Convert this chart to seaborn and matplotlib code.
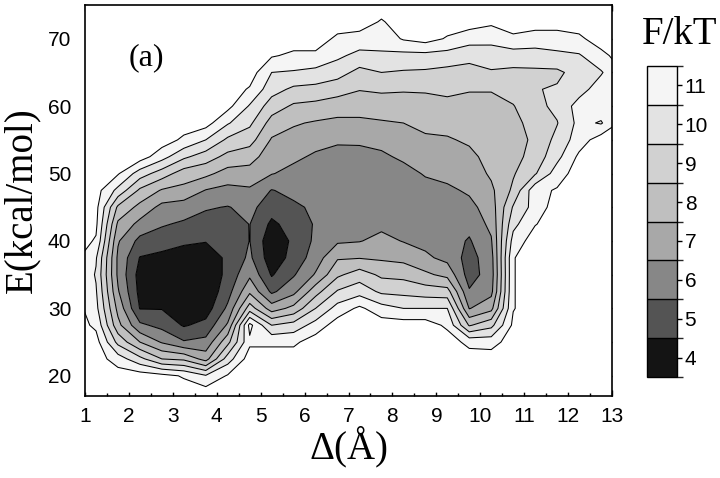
import numpy as np
import matplotlib
matplotlib.use("Agg")
import matplotlib.pyplot as plt
import seaborn as sns
from matplotlib.colors import ListedColormap, BoundaryNorm
from matplotlib.ticker import MultipleLocator
import matplotlib.colorbar as mcolorbar

sns.set_theme(style="ticks")
plt.rcParams["font.family"] = ["Liberation Sans", "DejaVu Sans"]

# ---- data: grid axes ----
delta = [0.75, 1.25, 1.75, 2.25, 2.75, 3.25, 3.75, 4.25, 4.75, 5.25, 5.75, 6.25, 6.75,
         7.25, 7.75, 8.25, 8.75, 9.25, 9.75, 10.25, 10.75, 11.25, 11.75, 12.25, 12.75, 13.25]
energy = [17.5, 20, 22.5, 25, 27.5, 30, 32.5, 35, 37.5, 40, 42.5, 45, 47.5, 50,
          52.5, 55, 57.5, 60, 62.5, 65, 67.5, 70, 72.5, 75]

# ---- data: F/kT along E for each Delta column (12 = outside sampled region) ----
F_d0_75  = [12, 12, 12, 12, 12, 12, 11.8, 11.8, 11.8, 12, 12, 12, 12, 12, 12, 12, 12, 12, 12, 12, 12, 12, 12, 12]
F_d1_25  = [12, 12, 12, 11.9, 11.3, 10.8, 10.6, 10.4, 10.6, 11.4, 11.7, 11.8, 11.9, 12, 12, 12, 12, 12, 12, 12, 12, 12, 12, 12]
F_d1_75  = [12, 12, 11.0, 9.2, 7.8, 7.2, 6.6, 6.3, 6.3, 6.6, 7.3, 8.3, 10.2, 11.6, 12, 12, 12, 12, 12, 12, 12, 12, 12, 12]
F_d2_25  = [12, 12, 9.8, 7.5, 5.7, 4.45, 4.2, 4.1, 4.45, 5.2, 6.2, 7.2, 8.3, 10.0, 12, 12, 12, 12, 12, 12, 12, 12, 12, 12]
F_d2_75  = [12, 11.8, 8.5, 6.4, 5.2, 4.45, 3.9, 3.7, 4.2, 5.0, 5.6, 6.2, 7.4, 9.0, 10.9, 12, 12, 12, 12, 12, 12, 12, 12, 12]
F_d3_25  = [12, 11.4, 8.3, 5.6, 4.4, 3.6, 3.4, 3.4, 3.8, 4.75, 5.35, 6.0, 7.2, 8.0, 9.7, 11.3, 12, 12, 12, 12, 12, 12, 12, 12]
F_d3_75  = [12, 10.6, 7.1, 5.8, 4.8, 4.0, 3.7, 3.6, 3.9, 4.55, 5.1, 5.6, 6.45, 7.75, 9.0, 10.5, 11.9, 12, 12, 12, 12, 12, 12, 12]
F_d4_25  = [12, 11.6, 10.0, 8.2, 6.65, 5.7, 5.1, 4.8, 4.7, 4.8, 5.1, 5.45, 6.2, 7.1, 8.2, 9.3, 10.6, 11.8, 12, 12, 12, 12, 12, 12]
F_d4_75  = [12, 12, 12, 11.3, 11.8, 9.0, 7.3, 6.3, 5.7, 5.52, 5.52, 5.8, 6.35, 7.1, 7.9, 8.9, 9.7, 10.4, 11.4, 12, 12, 12, 12, 12]
F_d5_25  = [12, 12, 12, 11.3, 9.5, 7.0, 5.3, 4.4, 3.9, 3.8, 4.3, 4.9, 5.45, 6.55, 6.95, 7.4, 8.1, 9.0, 9.9, 10.5, 11.6, 12, 12, 12]
F_d5_75  = [12, 12, 12, 11.3, 9.9, 7.8, 6.2, 5.4, 4.85, 4.7, 4.9, 5.3, 5.8, 6.2, 6.7, 7.15, 7.6, 8.35, 9.3, 10.4, 11.3, 12, 12, 12]
F_d6_25  = [12, 12, 12, 12, 10.9, 9.5, 8.1, 6.6, 6.0, 5.7, 5.6, 5.7, 5.9, 6.1, 6.35, 6.85, 7.4, 8.2, 9.2, 10.2, 11.3, 12, 12, 12]
F_d6_75  = [12, 12, 12, 12, 12, 10.9, 9.6, 8.3, 7.4, 6.35, 6.0, 5.85, 5.8, 5.9, 6.15, 6.65, 7.25, 8.0, 8.9, 9.9, 10.7, 11.3, 12, 12]
F_d7_25  = [12, 12, 12, 12, 12, 11.7, 10.1, 9.0, 7.45, 6.45, 6.1, 5.9, 5.8, 5.95, 6.2, 6.65, 7.3, 7.9, 8.55, 9.2, 10.2, 11.1, 12, 12]
F_d7_75  = [12, 12, 12, 12, 12, 10.9, 9.3, 8.3, 7.35, 6.8, 6.25, 6.0, 5.85, 6.0, 6.3, 6.85, 7.4, 8.0, 8.65, 9.5, 10.35, 10.9, 11.4, 12]
F_d8_25  = [12, 12, 12, 12, 12, 10.5, 9.2, 8.2, 7.2, 6.45, 6.15, 5.95, 5.9, 6.1, 6.7, 7.1, 7.5, 8.0, 8.6, 9.4, 10.2, 11.6, 12, 12]
F_d8_75  = [12, 12, 12, 12, 12, 10.5, 9.0, 7.7, 6.7, 6.2, 6.0, 5.9, 6.1, 6.6, 7.0, 7.35, 7.75, 8.15, 8.6, 9.35, 10.2, 11.9, 12, 12]
F_d9_25  = [12, 12, 12, 12, 11.3, 10.5, 8.9, 7.2, 6.2, 5.95, 5.85, 5.9, 6.3, 6.8, 7.1, 7.4, 7.85, 8.25, 8.7, 9.2, 10.1, 11.4, 12, 12]
F_d9_75  = [12, 12, 12, 11.2, 8.4, 6.45, 5.6, 5.05, 5.1, 5.4, 5.8, 6.2, 6.65, 6.95, 7.25, 7.65, 7.95, 8.25, 8.55, 9.1, 9.85, 10.9, 12, 12]
F_d10_25 = [12, 12, 12, 11.1, 9.2, 7.2, 6.2, 6.0, 6.1, 6.4, 6.75, 7.0, 7.3, 7.65, 7.85, 8.0, 8.1, 8.25, 8.55, 9.4, 10.0, 10.8, 11.7, 12]
F_d10_75 = [12, 12, 12, 12, 11.7, 11.45, 11.45, 11.45, 11.45, 10.9, 10.2, 9.6, 8.7, 8.4, 8.15, 8.1, 8.2, 8.45, 8.9, 9.3, 10.0, 11.3, 12, 12]
F_d11_25 = [12, 12, 12, 12, 12, 12, 12, 12, 12, 12, 11.45, 10.9, 11.2, 9.4, 8.9, 8.7, 8.9, 9.2, 9.45, 9.3, 10.1, 11.0, 12, 12]
F_d11_75 = [12, 12, 12, 12, 12, 12, 12, 12, 12, 12, 12, 12, 11.6, 11.0, 10.2, 9.8, 9.45, 9.75, 9.6, 9.3, 10.3, 11.0, 12, 12]
F_d12_25 = [12, 12, 12, 12, 12, 12, 12, 12, 12, 12, 12, 12, 12, 12, 11.7, 11.0, 10.8, 10.9, 10.1, 9.9, 10.4, 11.3, 12, 12]
F_d12_75 = [12, 12, 12, 12, 12, 12, 12, 12, 12, 12, 12, 12, 12, 12, 12, 12, 10.4, 11.1, 11.0, 10.4, 11.2, 12, 12, 12]
F_d13_25 = [12, 12, 12, 12, 12, 12, 12, 12, 12, 12, 12, 12, 12, 12, 12, 12, 11.8, 11.6, 11.5, 11.5, 12, 12, 12, 12]

columns = [F_d0_75, F_d1_25, F_d1_75, F_d2_25, F_d2_75, F_d3_25, F_d3_75, F_d4_25, F_d4_75,
           F_d5_25, F_d5_75, F_d6_25, F_d6_75, F_d7_25, F_d7_75, F_d8_25, F_d8_75, F_d9_25,
           F_d9_75, F_d10_25, F_d10_75, F_d11_25, F_d11_75, F_d12_25, F_d12_75, F_d13_25]

# colour-bar classes
cbar_values = [4, 5, 6, 7, 8, 9, 10, 11]
x_ticks = [1, 2, 3, 4, 5, 6, 7, 8, 9, 10, 11, 12, 13]
y_ticks = [20, 30, 40, 50, 60, 70]

# ---- build grid ----
F = np.column_stack([np.asarray(c, dtype=float) for c in columns])
D, E = np.meshgrid(np.asarray(delta), np.asarray(energy))

grays = [0.08, 0.33, 0.53, 0.66, 0.75, 0.82, 0.89, 0.96]
band_colors = [str(g) for g in grays]
bounds = [v - 0.5 for v in cbar_values] + [cbar_values[-1] + 0.5]
fill_levels = [-100] + bounds[1:] + [100]
fill_colors = band_colors + ["1.0"]

fig = plt.figure(figsize=(7.2, 4.78), dpi=100)
ax = fig.add_axes([0.1181, 0.1715, 0.7319, 0.818])
ax.set_facecolor("white")
ax.contourf(D, E, F, levels=fill_levels, colors=fill_colors, antialiased=True)
ax.contour(D, E, F, levels=bounds[1:], colors="black", linewidths=0.75)

ax.set_xlim(1, 13)
ax.set_ylim(17, 75)
ax.set_xticks(x_ticks)
ax.set_yticks(y_ticks)
ax.xaxis.set_minor_locator(MultipleLocator(0.5))
ax.yaxis.set_minor_locator(MultipleLocator(5))
ax.tick_params(which="both", direction="in", top=True, right=True, colors="black",
               width=1.0, labelsize=15)
ax.tick_params(which="major", length=4.5)
ax.tick_params(which="minor", length=2.4)
ax.tick_params(axis="x", pad=8)
ax.tick_params(axis="y", pad=10)
for s in ax.spines.values():
    s.set_color("black")
    s.set_linewidth(1.2)
ax.grid(False)

serif = ["Liberation Serif", "DejaVu Serif"]
ax.set_xlabel("Δ(Å)", fontsize=28, family=serif, color="black")
ax.set_ylabel("E(kcal/mol)", fontsize=28, family=serif, color="black")
ax.xaxis.set_label_coords(0.5, -0.075)
ax.yaxis.set_label_coords(-0.085, 0.5)
ax.text(2.40, 67.2, "(a)", fontsize=23, family=serif, ha="center", va="center", color="black")

# ---- colour bar ----
cax = fig.add_axes([0.8986, 0.2113, 0.0417, 0.6506])
cmap = ListedColormap(band_colors)
norm = BoundaryNorm(bounds, cmap.N)
cb = mcolorbar.ColorbarBase(cax, cmap=cmap, norm=norm, boundaries=bounds,
                            ticks=cbar_values, drawedges=True, orientation="vertical")
cb.outline.set_linewidth(1.0)
cb.outline.set_edgecolor("black")
cb.dividers.set_color("black")
cb.dividers.set_linewidth(1.0)
cax.tick_params(direction="out", length=3.5, width=1.0, labelsize=15, pad=2, colors="black")
cax.set_yticklabels([str(v) for v in cbar_values])
fig.text(0.944, 0.927, "F/kT", fontsize=28, family=serif, ha="center", va="center", color="black")

fig.savefig("out.png", dpi=100, facecolor="white")
